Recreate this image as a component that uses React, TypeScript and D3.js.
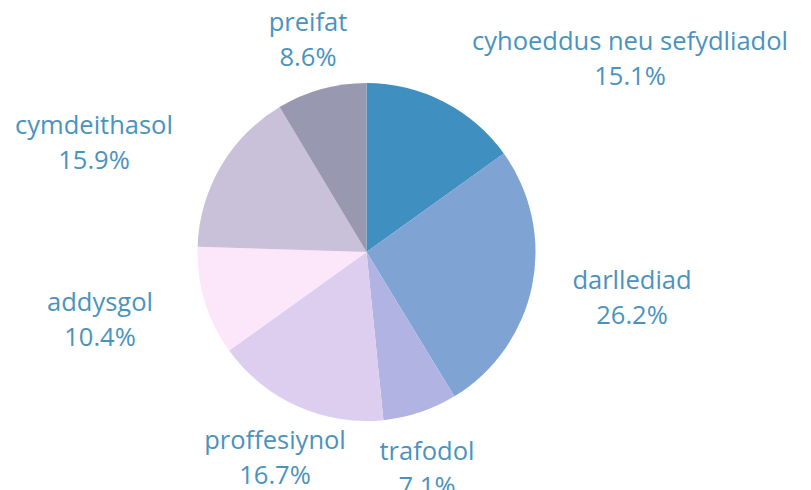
import React from "react";
import * as d3 from "d3";

const categories = ["cyhoeddus neu sefydliadol", "darllediad", "trafodol", "proffesiynol", "addysgol", "cymdeithasol", "preifat"];
const values = [15.1, 26.2, 7.1, 16.7, 10.4, 15.9, 8.6];
const colors = ["#3F8FC0", "#7FA3D3", "#B1B3E3", "#DDCEF0", "#FCE6FA", "#C9C0DA", "#9899B0"];
// label anchor points (center x, first-line baseline y)
const labelPos: [number, number][] = [
  [630, 50],
  [632, 289],
  [427, 460],
  [275, 449],
  [100, 311],
  [94, 134],
  [308, 31],
];

const W = 811;
const H = 490;
const cx = 366.5;
const cy = 252;
const R = 169;

export default function App() {
  const pie = d3.pie<number>().sort(null).value((d) => d);
  const arcs = pie(values);
  const arc = d3.arc<d3.PieArcDatum<number>>().innerRadius(0).outerRadius(R);
  return (
    <svg width={W} height={H} style={{ position: "absolute", left: 0, top: 0, background: "#fff" }}>
      <g transform={`translate(${cx},${cy})`}>
        {arcs.map((a, i) => (
          <path key={i} d={arc(a) || ""} fill={colors[i]} />
        ))}
      </g>
      {categories.map((c, i) => (
        <text
          key={c}
          x={labelPos[i][0]}
          y={labelPos[i][1]}
          textAnchor="middle"
          fill="#4A93BE"
          style={{ fontFamily: "'Open Sans', sans-serif", fontSize: 25.5 }}
        >
          <tspan x={labelPos[i][0]}>{c}</tspan>
          <tspan x={labelPos[i][0]} dy={35}>{values[i].toFixed(1)}%</tspan>
        </text>
      ))}
    </svg>
  );
}
